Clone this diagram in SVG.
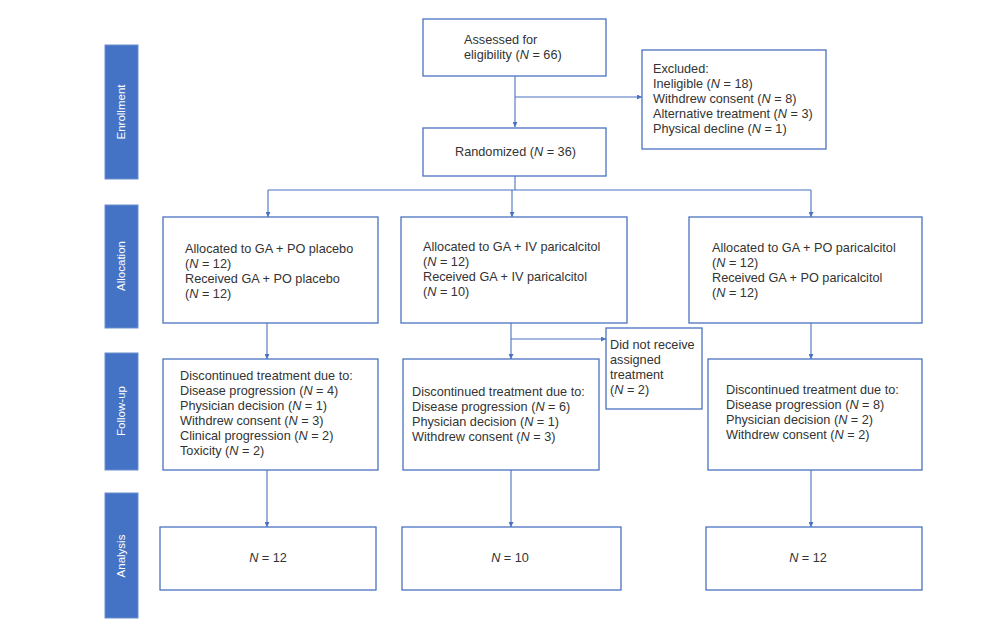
<svg xmlns="http://www.w3.org/2000/svg" width="1000" height="625" viewBox="0 0 1000 625">
<style>
.box{fill:#fff;stroke:#4A72C0;stroke-width:1.3}
.side{fill:#4472C4;stroke:#6D8FD0;stroke-width:1}
.t{font-family:"Liberation Sans",Arial,sans-serif;font-size:12.7px;fill:#333}
.st{font-family:"Liberation Sans",Arial,sans-serif;font-size:11.5px;fill:#fff;text-anchor:middle}
.ln{fill:none;stroke:#4A72C0;stroke-width:1.1}
.i{font-style:italic}
</style>
<defs>
<marker id="ah" viewBox="0 0 10 10" refX="10" refY="5" markerWidth="5" markerHeight="5" orient="auto" markerUnits="userSpaceOnUse">
<path d="M0,0 L10,5 L0,10 z" fill="#4A72C0"/>
</marker>
</defs>
<rect width="1000" height="625" fill="#fff"/>

<g id="stage-enrollment"><rect class="side" x="105" y="45" width="33" height="134"/><text class="st" transform="translate(125,112) rotate(-90)">Enrollment</text></g>
<g id="stage-allocation"><rect class="side" x="105" y="205" width="33" height="123"/><text class="st" transform="translate(125,266) rotate(-90)">Allocation</text></g>
<g id="stage-followup"><rect class="side" x="105" y="353" width="33" height="117"/><text class="st" transform="translate(125,411) rotate(-90)">Follow-up</text></g>
<g id="stage-analysis"><rect class="side" x="105" y="493" width="33" height="125"/><text class="st" transform="translate(125,556) rotate(-90)">Analysis</text></g>

<g id="connectors">
<path class="ln" d="M515,76 V127" marker-end="url(#ah)"/>
<path class="ln" d="M515,97 H642" marker-end="url(#ah)"/>
<path class="ln" d="M515,176 V190"/>
<path class="ln" d="M268,190 H811"/>
<path class="ln" d="M268,190 V217" marker-end="url(#ah)"/>
<path class="ln" d="M512,190 V217" marker-end="url(#ah)"/>
<path class="ln" d="M811,190 V217" marker-end="url(#ah)"/>
<path class="ln" d="M267,323 V359" marker-end="url(#ah)"/>
<path class="ln" d="M511,323 V359" marker-end="url(#ah)"/>
<path class="ln" d="M511,339 H606" marker-end="url(#ah)"/>
<path class="ln" d="M811,323 V359" marker-end="url(#ah)"/>
<path class="ln" d="M267,470 V527" marker-end="url(#ah)"/>
<path class="ln" d="M511,470 V527" marker-end="url(#ah)"/>
<path class="ln" d="M811,470 V527" marker-end="url(#ah)"/>
</g>

<g id="assessed"><rect class="box" x="423" y="19" width="183" height="57"/>
<text class="t" x="464" y="44">Assessed for</text>
<text class="t" x="464" y="59">eligibility (<tspan class="i">N</tspan> = 66)</text></g>

<g id="excluded"><rect class="box" x="642" y="50" width="184" height="99"/>
<text class="t" x="653" y="73">Excluded:</text>
<text class="t" x="653" y="88">Ineligible (<tspan class="i">N</tspan> = 18)</text>
<text class="t" x="653" y="103">Withdrew consent (<tspan class="i">N</tspan> = 8)</text>
<text class="t" x="653" y="118">Alternative treatment (<tspan class="i">N</tspan> = 3)</text>
<text class="t" x="653" y="133">Physical decline (<tspan class="i">N</tspan> = 1)</text></g>

<g id="randomized"><rect class="box" x="423" y="128" width="183" height="48"/>
<text class="t" x="455" y="156">Randomized (<tspan class="i">N</tspan> = 36)</text></g>

<g id="alloc-placebo"><rect class="box" x="163" y="217" width="215" height="106"/>
<text class="t" x="185" y="253">Allocated to GA + PO placebo</text>
<text class="t" x="185" y="268">(<tspan class="i">N</tspan> = 12)</text>
<text class="t" x="185" y="283">Received GA + PO placebo</text>
<text class="t" x="185" y="298">(<tspan class="i">N</tspan> = 12)</text></g>

<g id="alloc-iv"><rect class="box" x="401" y="217" width="226" height="106"/>
<text class="t" x="423" y="251">Allocated to GA + IV paricalcitol</text>
<text class="t" x="423" y="266">(<tspan class="i">N</tspan> = 12)</text>
<text class="t" x="423" y="281">Received GA + IV paricalcitol</text>
<text class="t" x="423" y="296">(<tspan class="i">N</tspan> = 10)</text></g>

<g id="alloc-po"><rect class="box" x="689" y="217" width="233" height="106"/>
<text class="t" x="712" y="252">Allocated to GA + PO paricalcitol</text>
<text class="t" x="712" y="267">(<tspan class="i">N</tspan> = 12)</text>
<text class="t" x="712" y="282">Received GA + PO paricalcitol</text>
<text class="t" x="712" y="297">(<tspan class="i">N</tspan> = 12)</text></g>

<g id="not-received"><rect class="box" x="606" y="328" width="96" height="81"/>
<text class="t" x="610" y="349">Did not receive</text>
<text class="t" x="610" y="364">assigned</text>
<text class="t" x="610" y="379">treatment</text>
<text class="t" x="610" y="394">(<tspan class="i">N</tspan> = 2)</text></g>

<g id="fu-placebo"><rect class="box" x="163" y="359" width="215" height="111"/>
<text class="t" x="180" y="380">Discontinued treatment due to:</text>
<text class="t" x="180" y="395">Disease progression (<tspan class="i">N</tspan> = 4)</text>
<text class="t" x="180" y="410">Physician decision (<tspan class="i">N</tspan> = 1)</text>
<text class="t" x="180" y="425">Withdrew consent (<tspan class="i">N</tspan> = 3)</text>
<text class="t" x="180" y="440">Clinical progression (<tspan class="i">N</tspan> = 2)</text>
<text class="t" x="180" y="455">Toxicity (<tspan class="i">N</tspan> = 2)</text></g>

<g id="fu-iv"><rect class="box" x="403" y="359" width="196" height="111"/>
<text class="t" x="412" y="396">Discontinued treatment due to:</text>
<text class="t" x="412" y="411">Disease progression (<tspan class="i">N</tspan> = 6)</text>
<text class="t" x="412" y="426">Physician decision (<tspan class="i">N</tspan> = 1)</text>
<text class="t" x="412" y="441">Withdrew consent (<tspan class="i">N</tspan> = 3)</text></g>

<g id="fu-po"><rect class="box" x="708" y="359" width="214" height="111"/>
<text class="t" x="726" y="394">Discontinued treatment due to:</text>
<text class="t" x="726" y="409">Disease progression (<tspan class="i">N</tspan> = 8)</text>
<text class="t" x="726" y="424">Physician decision (<tspan class="i">N</tspan> = 2)</text>
<text class="t" x="726" y="439">Withdrew consent (<tspan class="i">N</tspan> = 2)</text></g>

<g id="an-placebo"><rect class="box" x="160" y="527" width="216" height="63"/>
<text class="t" x="268" y="562" text-anchor="middle"><tspan class="i">N</tspan> = 12</text></g>
<g id="an-iv"><rect class="box" x="402" y="527" width="219" height="63"/>
<text class="t" x="510" y="562" text-anchor="middle"><tspan class="i">N</tspan> = 10</text></g>
<g id="an-po"><rect class="box" x="706" y="527" width="216" height="63"/>
<text class="t" x="808" y="562" text-anchor="middle"><tspan class="i">N</tspan> = 12</text></g>
</svg>
